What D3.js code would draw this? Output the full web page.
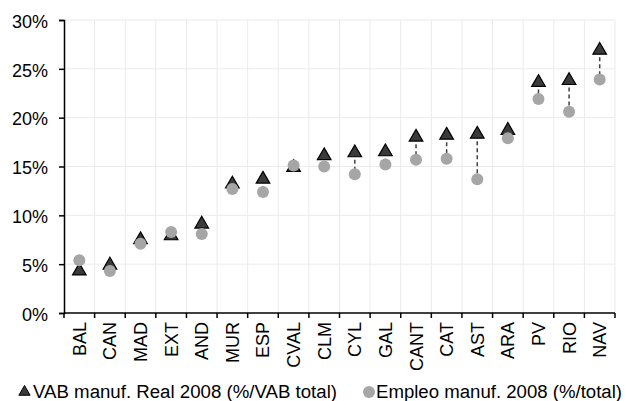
<!DOCTYPE html>
<html>
<head>
<meta charset="utf-8">
<script src="https://cdn.jsdelivr.net/npm/d3@7"></script>
<style>
  body { margin: 0; background: #fff; }
  text { font-family: "Liberation Sans", Arial, sans-serif; fill: #000; }
</style>
</head>
<body>
<svg id="chart" width="625" height="401"></svg>
<script>
// regions, sorted as in the original
let regions = ["BAL", "CAN", "MAD", "EXT", "AND", "MUR", "ESP", "CVAL", "CLM", "CYL",
               "GAL", "CANT", "CAT", "AST", "ARA", "PV", "RIO", "NAV"];
// VAB manuf. Real 2008 (% VAB total)
let vab = [4.3, 4.9, 7.5, 7.9, 9.1, 13.2, 13.7, 14.9, 16.1, 16.4,
           16.5, 18.0, 18.2, 18.3, 18.7, 23.6, 23.8, 26.9];
// Empleo manuf. 2008 (% total)
let empleo = [5.4, 4.3, 7.1, 8.3, 8.1, 12.7, 12.4, 15.1, 15.0, 14.2,
              15.2, 15.7, 15.8, 13.7, 17.9, 21.9, 20.6, 23.9];
let yTicks = [0, 5, 10, 15, 20, 25, 30];

let margin = {top: 20, right: 10, bottom: 88, left: 64};
let width = 615 - margin.left;
let height = 313 - margin.top;

let svg = d3.select("#chart");
let g = svg.append("g").attr("transform", `translate(${margin.left}, ${margin.top})`);

let x = d3.scaleBand().domain(regions).range([0, width]);
let y = d3.scaleLinear().domain([0, 30]).range([height, 0]);

// gridlines
g.append("g").selectAll("line").data(yTicks.slice(1))
    .enter().append("line")
    .attr("x1", 0).attr("x2", width)
    .attr("y1", d => y(d)).attr("y2", d => y(d))
    .attr("stroke", "#ebebeb").attr("stroke-width", 1);
g.append("g").selectAll("line").data(regions)
    .enter().append("line")
    .attr("x1", d => x(d) + x.bandwidth()).attr("x2", d => x(d) + x.bandwidth())
    .attr("y1", 0).attr("y2", height)
    .attr("stroke", "#ebebeb").attr("stroke-width", 1);

// y axis
let yAxis = g.append("g")
    .call(d3.axisLeft(y).tickValues(yTicks).tickFormat(d => d + "%").tickSizeOuter(0).tickSize(5).tickPadding(11));
yAxis.select(".domain").attr("stroke", "#000").attr("stroke-width", 1.5);
yAxis.selectAll(".tick line").attr("stroke-width", 1.5);
yAxis.selectAll("text").style("font-size", "18px").attr("dy", "0.4em");

// x axis: ticks at band edges
let xAx = g.append("g").attr("transform", `translate(0, ${height})`);
xAx.append("line").attr("x1", 0).attr("x2", width).attr("y1", 0).attr("y2", 0)
    .attr("stroke", "#000").attr("stroke-width", 1.5);
xAx.selectAll("line.tk").data(d3.range(regions.length + 1))
    .enter().append("line").attr("class", "tk")
    .attr("x1", i => i * x.step()).attr("x2", i => i * x.step())
    .attr("y1", 0).attr("y2", 5)
    .attr("stroke", "#000").attr("stroke-width", 1.5);
xAx.selectAll("text").data(regions)
    .enter().append("text")
    .attr("transform", d => `translate(${x(d) + x.bandwidth() / 2 + 6.5}, 9) rotate(-90)`)
    .style("text-anchor", "end")
    .style("font-size", "18px")
    .text(d => d);

// dashed connectors
g.append("g").selectAll("line").data(regions)
    .enter().append("line")
    .attr("x1", d => x(d) + x.bandwidth() / 2).attr("x2", d => x(d) + x.bandwidth() / 2)
    .attr("y1", (d, i) => y(vab[i])).attr("y2", (d, i) => y(empleo[i]))
    .attr("stroke", "#404040").attr("stroke-width", 1.5)
    .attr("stroke-dasharray", "4,3");

let tri = d3.symbol().type(d3.symbolTriangle).size(80);

// triangles (VAB)
g.append("g").selectAll("path").data(regions)
    .enter().append("path")
    .attr("d", tri)
    .attr("transform", (d, i) => `translate(${x(d) + x.bandwidth() / 2}, ${y(vab[i])})`)
    .attr("fill", "#3a3a3a")
    .attr("stroke", "#000").attr("stroke-width", 1.2);

// circles (employment) drawn on top
g.append("g").selectAll("circle").data(regions)
    .enter().append("circle")
    .attr("cx", d => x(d) + x.bandwidth() / 2)
    .attr("cy", (d, i) => y(empleo[i]))
    .attr("r", 6)
    .attr("fill", "#a6a6a6");

// legend
let legend = svg.append("g").attr("transform", "translate(0, 392)");
legend.append("path").attr("d", d3.symbol().type(d3.symbolTriangle).size(55))
    .attr("transform", "translate(24.5, 0)")
    .attr("fill", "#3a3a3a").attr("stroke", "#000").attr("stroke-width", 1);
legend.append("text").attr("x", 33).attr("y", 6).style("font-size", "18px")
    .attr("textLength", 304).attr("lengthAdjust", "spacingAndGlyphs")
    .text("VAB manuf. Real 2008 (%/VAB total)");
legend.append("circle").attr("cx", 369).attr("cy", 0).attr("r", 6).attr("fill", "#a6a6a6");
legend.append("text").attr("x", 376).attr("y", 6).style("font-size", "18px")
    .attr("textLength", 246).attr("lengthAdjust", "spacingAndGlyphs")
    .text("Empleo manuf. 2008 (%/total)");
</script>
</body>
</html>
